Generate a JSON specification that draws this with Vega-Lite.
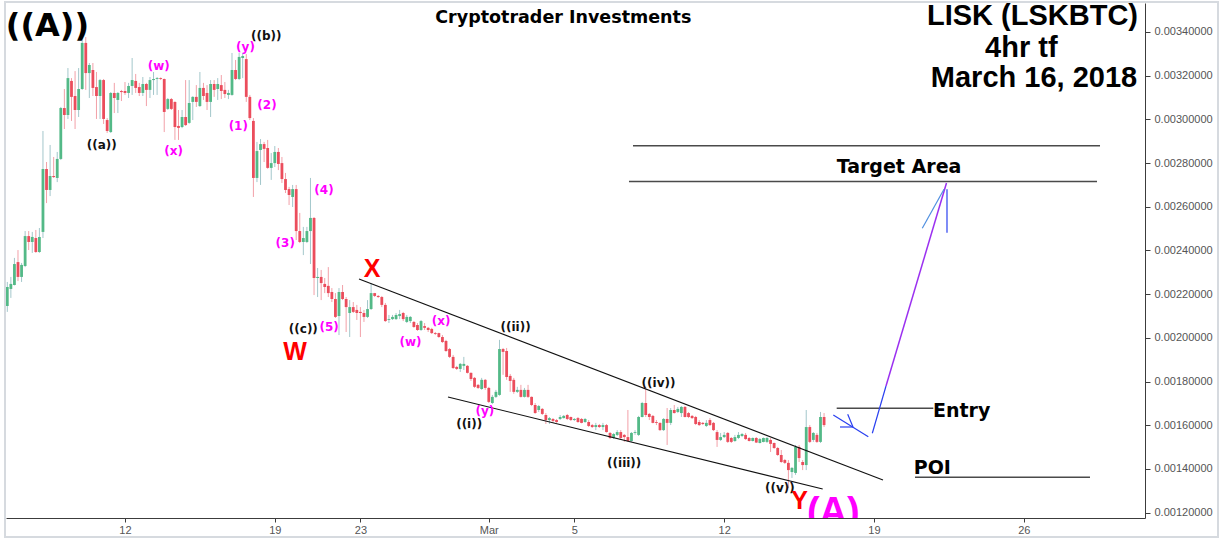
{
"$schema":"https://vega.github.io/schema/vega-lite/v6.json",
"width":1139,"height":515,
"autosize":{"type":"none"},
"padding":{"left":6,"top":3,"right":85,"bottom":38},
"background":"white",
"config":{"view":{"stroke":null},"axis":{"grid":false},"scale":{"continuousPadding":0}},
"datasets":{
"candles":[
{"t":"2018-02-06T12:00:00Z","o":0.002146,"h":0.002256,"l":0.002119,"c":0.002233},
{"t":"2018-02-06T16:00:00Z","o":0.002224,"h":0.002279,"l":0.002183,"c":0.002247},
{"t":"2018-02-06T20:00:00Z","o":0.002242,"h":0.002366,"l":0.002240,"c":0.002338},
{"t":"2018-02-07T00:00:00Z","o":0.002347,"h":0.002402,"l":0.002260,"c":0.002279},
{"t":"2018-02-07T04:00:00Z","o":0.002279,"h":0.002343,"l":0.002256,"c":0.002334},
{"t":"2018-02-07T08:00:00Z","o":0.002329,"h":0.002489,"l":0.002324,"c":0.002466},
{"t":"2018-02-07T12:00:00Z","o":0.002466,"h":0.002489,"l":0.002402,"c":0.002439},
{"t":"2018-02-07T16:00:00Z","o":0.002439,"h":0.002485,"l":0.002389,"c":0.002462},
{"t":"2018-02-07T20:00:00Z","o":0.002457,"h":0.002494,"l":0.002389,"c":0.002393},
{"t":"2018-02-08T00:00:00Z","o":0.002393,"h":0.002503,"l":0.002389,"c":0.002462},
{"t":"2018-02-08T04:00:00Z","o":0.002485,"h":0.002947,"l":0.002457,"c":0.002773},
{"t":"2018-02-08T08:00:00Z","o":0.002773,"h":0.002805,"l":0.002617,"c":0.002677},
{"t":"2018-02-08T12:00:00Z","o":0.002677,"h":0.002883,"l":0.002649,"c":0.002741},
{"t":"2018-02-08T16:00:00Z","o":0.002741,"h":0.002828,"l":0.002732,"c":0.002736},
{"t":"2018-02-08T20:00:00Z","o":0.002732,"h":0.002851,"l":0.002713,"c":0.002819},
{"t":"2018-02-09T00:00:00Z","o":0.002819,"h":0.003057,"l":0.002814,"c":0.003052},
{"t":"2018-02-09T04:00:00Z","o":0.003052,"h":0.003139,"l":0.002956,"c":0.003020},
{"t":"2018-02-09T08:00:00Z","o":0.003020,"h":0.003235,"l":0.003002,"c":0.003189},
{"t":"2018-02-09T12:00:00Z","o":0.003176,"h":0.003189,"l":0.002993,"c":0.003103},
{"t":"2018-02-09T16:00:00Z","o":0.003107,"h":0.003221,"l":0.002956,"c":0.003043},
{"t":"2018-02-09T20:00:00Z","o":0.003043,"h":0.003235,"l":0.003011,"c":0.003139},
{"t":"2018-02-10T00:00:00Z","o":0.003139,"h":0.003405,"l":0.003135,"c":0.003350},
{"t":"2018-02-10T04:00:00Z","o":0.003350,"h":0.003377,"l":0.003135,"c":0.003212},
{"t":"2018-02-10T08:00:00Z","o":0.003212,"h":0.003258,"l":0.003098,"c":0.003249},
{"t":"2018-02-10T12:00:00Z","o":0.003226,"h":0.003258,"l":0.003107,"c":0.003144},
{"t":"2018-02-10T16:00:00Z","o":0.003148,"h":0.003217,"l":0.003002,"c":0.003107},
{"t":"2018-02-10T20:00:00Z","o":0.003107,"h":0.003185,"l":0.003002,"c":0.003180},
{"t":"2018-02-11T00:00:00Z","o":0.003180,"h":0.003185,"l":0.002979,"c":0.003002},
{"t":"2018-02-11T04:00:00Z","o":0.002997,"h":0.003006,"l":0.002938,"c":0.002947},
{"t":"2018-02-11T08:00:00Z","o":0.002942,"h":0.003125,"l":0.002938,"c":0.003121},
{"t":"2018-02-11T12:00:00Z","o":0.003121,"h":0.003167,"l":0.003029,"c":0.003098},
{"t":"2018-02-11T16:00:00Z","o":0.003089,"h":0.003125,"l":0.003029,"c":0.003121},
{"t":"2018-02-11T20:00:00Z","o":0.003130,"h":0.003135,"l":0.003084,"c":0.003125},
{"t":"2018-02-12T00:00:00Z","o":0.003130,"h":0.003171,"l":0.003112,"c":0.003121},
{"t":"2018-02-12T04:00:00Z","o":0.003121,"h":0.003167,"l":0.003098,"c":0.003153},
{"t":"2018-02-12T08:00:00Z","o":0.003153,"h":0.003281,"l":0.003112,"c":0.003180},
{"t":"2018-02-12T12:00:00Z","o":0.003176,"h":0.003208,"l":0.003121,"c":0.003144},
{"t":"2018-02-12T16:00:00Z","o":0.003148,"h":0.003167,"l":0.003107,"c":0.003121},
{"t":"2018-02-12T20:00:00Z","o":0.003121,"h":0.003194,"l":0.003107,"c":0.003162},
{"t":"2018-02-13T00:00:00Z","o":0.003162,"h":0.003167,"l":0.003061,"c":0.003135},
{"t":"2018-02-13T04:00:00Z","o":0.003135,"h":0.003194,"l":0.003098,"c":0.003180},
{"t":"2018-02-13T08:00:00Z","o":0.003180,"h":0.003217,"l":0.003112,"c":0.003185},
{"t":"2018-02-13T12:00:00Z","o":0.003185,"h":0.003194,"l":0.003112,"c":0.003189},
{"t":"2018-02-13T16:00:00Z","o":0.003189,"h":0.003192,"l":0.003180,"c":0.003185},
{"t":"2018-02-13T20:00:00Z","o":0.003185,"h":0.003187,"l":0.002942,"c":0.003034},
{"t":"2018-02-14T00:00:00Z","o":0.003048,"h":0.003098,"l":0.003043,"c":0.003093},
{"t":"2018-02-14T04:00:00Z","o":0.003093,"h":0.003098,"l":0.003043,"c":0.003048},
{"t":"2018-02-14T08:00:00Z","o":0.003080,"h":0.003082,"l":0.002906,"c":0.002965},
{"t":"2018-02-14T12:00:00Z","o":0.002970,"h":0.003043,"l":0.002906,"c":0.002961},
{"t":"2018-02-14T16:00:00Z","o":0.002965,"h":0.003043,"l":0.002960,"c":0.003011},
{"t":"2018-02-14T20:00:00Z","o":0.003011,"h":0.003180,"l":0.002970,"c":0.002974},
{"t":"2018-02-15T00:00:00Z","o":0.002984,"h":0.003180,"l":0.002980,"c":0.003075},
{"t":"2018-02-15T04:00:00Z","o":0.003080,"h":0.003106,"l":0.002997,"c":0.003103},
{"t":"2018-02-15T08:00:00Z","o":0.003103,"h":0.003157,"l":0.003057,"c":0.003080},
{"t":"2018-02-15T12:00:00Z","o":0.003061,"h":0.003217,"l":0.003057,"c":0.003144},
{"t":"2018-02-15T16:00:00Z","o":0.003144,"h":0.003167,"l":0.003089,"c":0.003107},
{"t":"2018-02-15T20:00:00Z","o":0.003121,"h":0.003157,"l":0.003043,"c":0.003080},
{"t":"2018-02-16T00:00:00Z","o":0.003080,"h":0.003180,"l":0.003011,"c":0.003162},
{"t":"2018-02-16T04:00:00Z","o":0.003162,"h":0.003180,"l":0.003103,"c":0.003135},
{"t":"2018-02-16T08:00:00Z","o":0.003139,"h":0.003189,"l":0.003089,"c":0.003162},
{"t":"2018-02-16T12:00:00Z","o":0.003157,"h":0.003203,"l":0.003093,"c":0.003130},
{"t":"2018-02-16T16:00:00Z","o":0.003135,"h":0.003171,"l":0.003098,"c":0.003116},
{"t":"2018-02-16T20:00:00Z","o":0.003112,"h":0.003135,"l":0.003093,"c":0.003121},
{"t":"2018-02-17T00:00:00Z","o":0.003112,"h":0.003304,"l":0.003108,"c":0.003226},
{"t":"2018-02-17T04:00:00Z","o":0.003226,"h":0.003272,"l":0.003180,"c":0.003185},
{"t":"2018-02-17T08:00:00Z","o":0.003185,"h":0.003304,"l":0.003180,"c":0.003286},
{"t":"2018-02-17T12:00:00Z","o":0.003281,"h":0.003304,"l":0.003189,"c":0.003290},
{"t":"2018-02-17T16:00:00Z","o":0.003276,"h":0.003299,"l":0.003080,"c":0.003103},
{"t":"2018-02-17T20:00:00Z","o":0.003103,"h":0.003112,"l":0.002997,"c":0.003006},
{"t":"2018-02-18T00:00:00Z","o":0.002993,"h":0.003006,"l":0.002645,"c":0.002732},
{"t":"2018-02-18T04:00:00Z","o":0.002732,"h":0.002897,"l":0.002713,"c":0.002855},
{"t":"2018-02-18T08:00:00Z","o":0.002860,"h":0.002910,"l":0.002700,"c":0.002887},
{"t":"2018-02-18T12:00:00Z","o":0.002887,"h":0.002897,"l":0.002805,"c":0.002865},
{"t":"2018-02-18T16:00:00Z","o":0.002869,"h":0.002906,"l":0.002774,"c":0.002778},
{"t":"2018-02-18T20:00:00Z","o":0.002778,"h":0.002846,"l":0.002723,"c":0.002800},
{"t":"2018-02-19T00:00:00Z","o":0.002800,"h":0.002878,"l":0.002782,"c":0.002851},
{"t":"2018-02-19T04:00:00Z","o":0.002851,"h":0.002869,"l":0.002768,"c":0.002796},
{"t":"2018-02-19T08:00:00Z","o":0.002800,"h":0.002828,"l":0.002709,"c":0.002727},
{"t":"2018-02-19T12:00:00Z","o":0.002727,"h":0.002755,"l":0.002663,"c":0.002677},
{"t":"2018-02-19T16:00:00Z","o":0.002681,"h":0.002691,"l":0.002608,"c":0.002654},
{"t":"2018-02-19T20:00:00Z","o":0.002645,"h":0.002700,"l":0.002599,"c":0.002681},
{"t":"2018-02-20T00:00:00Z","o":0.002681,"h":0.002700,"l":0.002448,"c":0.002489},
{"t":"2018-02-20T04:00:00Z","o":0.002489,"h":0.002572,"l":0.002434,"c":0.002439},
{"t":"2018-02-20T08:00:00Z","o":0.002439,"h":0.002508,"l":0.002379,"c":0.002457},
{"t":"2018-02-20T12:00:00Z","o":0.002439,"h":0.002508,"l":0.002434,"c":0.002489},
{"t":"2018-02-20T16:00:00Z","o":0.002489,"h":0.002732,"l":0.002338,"c":0.002549},
{"t":"2018-02-20T20:00:00Z","o":0.002549,"h":0.002553,"l":0.002196,"c":0.002274},
{"t":"2018-02-21T00:00:00Z","o":0.002274,"h":0.002320,"l":0.002187,"c":0.002279},
{"t":"2018-02-21T04:00:00Z","o":0.002279,"h":0.002311,"l":0.002173,"c":0.002251},
{"t":"2018-02-21T08:00:00Z","o":0.002247,"h":0.002274,"l":0.002205,"c":0.002233},
{"t":"2018-02-21T12:00:00Z","o":0.002238,"h":0.002324,"l":0.002187,"c":0.002205},
{"t":"2018-02-21T16:00:00Z","o":0.002210,"h":0.002228,"l":0.002164,"c":0.002178},
{"t":"2018-02-21T20:00:00Z","o":0.002178,"h":0.002205,"l":0.002091,"c":0.002096},
{"t":"2018-02-22T00:00:00Z","o":0.002100,"h":0.002228,"l":0.002013,"c":0.002210},
{"t":"2018-02-22T04:00:00Z","o":0.002210,"h":0.002242,"l":0.002173,"c":0.002178},
{"t":"2018-02-22T08:00:00Z","o":0.002178,"h":0.002187,"l":0.002027,"c":0.002141},
{"t":"2018-02-22T12:00:00Z","o":0.002114,"h":0.002173,"l":0.002004,"c":0.002141},
{"t":"2018-02-22T16:00:00Z","o":0.002141,"h":0.002164,"l":0.002114,"c":0.002119},
{"t":"2018-02-22T20:00:00Z","o":0.002128,"h":0.002151,"l":0.002082,"c":0.002114},
{"t":"2018-02-23T00:00:00Z","o":0.002119,"h":0.002141,"l":0.002004,"c":0.002114},
{"t":"2018-02-23T04:00:00Z","o":0.002114,"h":0.002128,"l":0.002073,"c":0.002096},
{"t":"2018-02-23T08:00:00Z","o":0.002096,"h":0.002173,"l":0.002091,"c":0.002132},
{"t":"2018-02-23T12:00:00Z","o":0.002132,"h":0.002251,"l":0.002128,"c":0.002205},
{"t":"2018-02-23T16:00:00Z","o":0.002205,"h":0.002206,"l":0.002187,"c":0.002192},
{"t":"2018-02-23T20:00:00Z","o":0.002192,"h":0.002196,"l":0.002183,"c":0.002187},
{"t":"2018-02-24T00:00:00Z","o":0.002187,"h":0.002192,"l":0.002141,"c":0.002151},
{"t":"2018-02-24T04:00:00Z","o":0.002151,"h":0.002160,"l":0.002073,"c":0.002077},
{"t":"2018-02-24T08:00:00Z","o":0.002082,"h":0.002105,"l":0.002068,"c":0.002086},
{"t":"2018-02-24T12:00:00Z","o":0.002086,"h":0.002105,"l":0.002082,"c":0.002096},
{"t":"2018-02-24T16:00:00Z","o":0.002086,"h":0.002114,"l":0.002082,"c":0.002105},
{"t":"2018-02-24T20:00:00Z","o":0.002100,"h":0.002128,"l":0.002086,"c":0.002109},
{"t":"2018-02-25T00:00:00Z","o":0.002114,"h":0.002119,"l":0.002077,"c":0.002086},
{"t":"2018-02-25T04:00:00Z","o":0.002073,"h":0.002105,"l":0.002068,"c":0.002096},
{"t":"2018-02-25T08:00:00Z","o":0.002077,"h":0.002100,"l":0.002068,"c":0.002096},
{"t":"2018-02-25T12:00:00Z","o":0.002073,"h":0.002077,"l":0.002046,"c":0.002050},
{"t":"2018-02-25T16:00:00Z","o":0.002059,"h":0.002068,"l":0.002032,"c":0.002036},
{"t":"2018-02-25T20:00:00Z","o":0.002036,"h":0.002082,"l":0.002032,"c":0.002077},
{"t":"2018-02-26T00:00:00Z","o":0.002054,"h":0.002068,"l":0.002036,"c":0.002046},
{"t":"2018-02-26T04:00:00Z","o":0.002046,"h":0.002050,"l":0.002027,"c":0.002036},
{"t":"2018-02-26T08:00:00Z","o":0.002041,"h":0.002046,"l":0.002018,"c":0.002022},
{"t":"2018-02-26T12:00:00Z","o":0.002022,"h":0.002027,"l":0.002013,"c":0.002018},
{"t":"2018-02-26T16:00:00Z","o":0.002022,"h":0.002024,"l":0.002000,"c":0.002004},
{"t":"2018-02-26T20:00:00Z","o":0.002004,"h":0.002013,"l":0.001977,"c":0.001981},
{"t":"2018-02-27T00:00:00Z","o":0.001986,"h":0.001991,"l":0.001936,"c":0.001940},
{"t":"2018-02-27T04:00:00Z","o":0.001949,"h":0.001954,"l":0.001908,"c":0.001913},
{"t":"2018-02-27T08:00:00Z","o":0.001913,"h":0.001922,"l":0.001858,"c":0.001862},
{"t":"2018-02-27T12:00:00Z","o":0.001867,"h":0.001872,"l":0.001853,"c":0.001858},
{"t":"2018-02-27T16:00:00Z","o":0.001858,"h":0.001885,"l":0.001844,"c":0.001881},
{"t":"2018-02-27T20:00:00Z","o":0.001872,"h":0.001913,"l":0.001853,"c":0.001881},
{"t":"2018-02-28T00:00:00Z","o":0.001872,"h":0.001876,"l":0.001837,"c":0.001840},
{"t":"2018-02-28T04:00:00Z","o":0.001840,"h":0.001842,"l":0.001803,"c":0.001812},
{"t":"2018-02-28T08:00:00Z","o":0.001817,"h":0.001821,"l":0.001771,"c":0.001776},
{"t":"2018-02-28T12:00:00Z","o":0.001785,"h":0.001789,"l":0.001766,"c":0.001771},
{"t":"2018-02-28T16:00:00Z","o":0.001766,"h":0.001817,"l":0.001762,"c":0.001808},
{"t":"2018-02-28T20:00:00Z","o":0.001808,"h":0.001812,"l":0.001762,"c":0.001771},
{"t":"2018-03-01T00:00:00Z","o":0.001771,"h":0.001776,"l":0.001702,"c":0.001707},
{"t":"2018-03-01T04:00:00Z","o":0.001702,"h":0.001739,"l":0.001697,"c":0.001730},
{"t":"2018-03-01T08:00:00Z","o":0.001730,"h":0.001762,"l":0.001725,"c":0.001753},
{"t":"2018-03-01T12:00:00Z","o":0.001739,"h":0.001991,"l":0.001735,"c":0.001949},
{"t":"2018-03-01T16:00:00Z","o":0.001949,"h":0.001954,"l":0.001831,"c":0.001936},
{"t":"2018-03-01T20:00:00Z","o":0.001940,"h":0.001954,"l":0.001808,"c":0.001821},
{"t":"2018-03-02T00:00:00Z","o":0.001826,"h":0.001835,"l":0.001753,"c":0.001803},
{"t":"2018-03-02T04:00:00Z","o":0.001808,"h":0.001817,"l":0.001744,"c":0.001753},
{"t":"2018-03-02T08:00:00Z","o":0.001753,"h":0.001776,"l":0.001748,"c":0.001762},
{"t":"2018-03-02T12:00:00Z","o":0.001762,"h":0.001785,"l":0.001727,"c":0.001730},
{"t":"2018-03-02T16:00:00Z","o":0.001730,"h":0.001771,"l":0.001727,"c":0.001762},
{"t":"2018-03-02T20:00:00Z","o":0.001762,"h":0.001785,"l":0.001725,"c":0.001730},
{"t":"2018-03-03T00:00:00Z","o":0.001730,"h":0.001732,"l":0.001688,"c":0.001693},
{"t":"2018-03-03T04:00:00Z","o":0.001693,"h":0.001702,"l":0.001653,"c":0.001656},
{"t":"2018-03-03T08:00:00Z","o":0.001670,"h":0.001693,"l":0.001661,"c":0.001688},
{"t":"2018-03-03T12:00:00Z","o":0.001675,"h":0.001679,"l":0.001647,"c":0.001652},
{"t":"2018-03-03T16:00:00Z","o":0.001647,"h":0.001656,"l":0.001606,"c":0.001624},
{"t":"2018-03-03T20:00:00Z","o":0.001624,"h":0.001638,"l":0.001606,"c":0.001633},
{"t":"2018-03-04T00:00:00Z","o":0.001629,"h":0.001633,"l":0.001611,"c":0.001620},
{"t":"2018-03-04T04:00:00Z","o":0.001624,"h":0.001629,"l":0.001611,"c":0.001615},
{"t":"2018-03-04T08:00:00Z","o":0.001629,"h":0.001647,"l":0.001624,"c":0.001638},
{"t":"2018-03-04T12:00:00Z","o":0.001633,"h":0.001647,"l":0.001631,"c":0.001643},
{"t":"2018-03-04T16:00:00Z","o":0.001647,"h":0.001652,"l":0.001624,"c":0.001629},
{"t":"2018-03-04T20:00:00Z","o":0.001638,"h":0.001640,"l":0.001620,"c":0.001624},
{"t":"2018-03-05T00:00:00Z","o":0.001624,"h":0.001633,"l":0.001620,"c":0.001629},
{"t":"2018-03-05T04:00:00Z","o":0.001633,"h":0.001638,"l":0.001611,"c":0.001615},
{"t":"2018-03-05T08:00:00Z","o":0.001629,"h":0.001633,"l":0.001609,"c":0.001611},
{"t":"2018-03-05T12:00:00Z","o":0.001615,"h":0.001633,"l":0.001611,"c":0.001629},
{"t":"2018-03-05T16:00:00Z","o":0.001615,"h":0.001624,"l":0.001592,"c":0.001597},
{"t":"2018-03-05T20:00:00Z","o":0.001601,"h":0.001606,"l":0.001588,"c":0.001592},
{"t":"2018-03-06T00:00:00Z","o":0.001592,"h":0.001611,"l":0.001578,"c":0.001601},
{"t":"2018-03-06T04:00:00Z","o":0.001601,"h":0.001606,"l":0.001588,"c":0.001592},
{"t":"2018-03-06T08:00:00Z","o":0.001592,"h":0.001611,"l":0.001578,"c":0.001601},
{"t":"2018-03-06T12:00:00Z","o":0.001601,"h":0.001606,"l":0.001567,"c":0.001569},
{"t":"2018-03-06T16:00:00Z","o":0.001565,"h":0.001569,"l":0.001537,"c":0.001542},
{"t":"2018-03-06T20:00:00Z","o":0.001542,"h":0.001565,"l":0.001537,"c":0.001560},
{"t":"2018-03-07T00:00:00Z","o":0.001556,"h":0.001578,"l":0.001551,"c":0.001569},
{"t":"2018-03-07T04:00:00Z","o":0.001569,"h":0.001578,"l":0.001537,"c":0.001542},
{"t":"2018-03-07T08:00:00Z","o":0.001556,"h":0.001560,"l":0.001524,"c":0.001546},
{"t":"2018-03-07T12:00:00Z","o":0.001546,"h":0.001670,"l":0.001524,"c":0.001528},
{"t":"2018-03-07T16:00:00Z","o":0.001528,"h":0.001569,"l":0.001524,"c":0.001565},
{"t":"2018-03-07T20:00:00Z","o":0.001565,"h":0.001578,"l":0.001556,"c":0.001569},
{"t":"2018-03-08T00:00:00Z","o":0.001556,"h":0.001643,"l":0.001551,"c":0.001638},
{"t":"2018-03-08T04:00:00Z","o":0.001638,"h":0.001707,"l":0.001636,"c":0.001702},
{"t":"2018-03-08T08:00:00Z","o":0.001702,"h":0.001776,"l":0.001638,"c":0.001647},
{"t":"2018-03-08T12:00:00Z","o":0.001652,"h":0.001656,"l":0.001624,"c":0.001638},
{"t":"2018-03-08T16:00:00Z","o":0.001643,"h":0.001647,"l":0.001609,"c":0.001611},
{"t":"2018-03-08T20:00:00Z","o":0.001615,"h":0.001624,"l":0.001601,"c":0.001611},
{"t":"2018-03-09T00:00:00Z","o":0.001611,"h":0.001613,"l":0.001574,"c":0.001578},
{"t":"2018-03-09T04:00:00Z","o":0.001578,"h":0.001633,"l":0.001574,"c":0.001629},
{"t":"2018-03-09T08:00:00Z","o":0.001629,"h":0.001679,"l":0.001510,"c":0.001611},
{"t":"2018-03-09T12:00:00Z","o":0.001611,"h":0.001679,"l":0.001601,"c":0.001670},
{"t":"2018-03-09T16:00:00Z","o":0.001670,"h":0.001693,"l":0.001654,"c":0.001656},
{"t":"2018-03-09T20:00:00Z","o":0.001661,"h":0.001684,"l":0.001656,"c":0.001675},
{"t":"2018-03-10T00:00:00Z","o":0.001656,"h":0.001688,"l":0.001638,"c":0.001684},
{"t":"2018-03-10T04:00:00Z","o":0.001684,"h":0.001688,"l":0.001636,"c":0.001638},
{"t":"2018-03-10T08:00:00Z","o":0.001656,"h":0.001661,"l":0.001633,"c":0.001638},
{"t":"2018-03-10T12:00:00Z","o":0.001643,"h":0.001647,"l":0.001629,"c":0.001633},
{"t":"2018-03-10T16:00:00Z","o":0.001638,"h":0.001643,"l":0.001601,"c":0.001606},
{"t":"2018-03-10T20:00:00Z","o":0.001615,"h":0.001624,"l":0.001597,"c":0.001601},
{"t":"2018-03-11T00:00:00Z","o":0.001611,"h":0.001615,"l":0.001601,"c":0.001606},
{"t":"2018-03-11T04:00:00Z","o":0.001597,"h":0.001624,"l":0.001592,"c":0.001611},
{"t":"2018-03-11T08:00:00Z","o":0.001624,"h":0.001633,"l":0.001597,"c":0.001601},
{"t":"2018-03-11T12:00:00Z","o":0.001611,"h":0.001615,"l":0.001574,"c":0.001578},
{"t":"2018-03-11T16:00:00Z","o":0.001569,"h":0.001578,"l":0.001501,"c":0.001533},
{"t":"2018-03-11T20:00:00Z","o":0.001533,"h":0.001565,"l":0.001528,"c":0.001546},
{"t":"2018-03-12T00:00:00Z","o":0.001546,"h":0.001569,"l":0.001542,"c":0.001556},
{"t":"2018-03-12T04:00:00Z","o":0.001565,"h":0.001569,"l":0.001519,"c":0.001524},
{"t":"2018-03-12T08:00:00Z","o":0.001542,"h":0.001546,"l":0.001519,"c":0.001524},
{"t":"2018-03-12T12:00:00Z","o":0.001528,"h":0.001556,"l":0.001524,"c":0.001546},
{"t":"2018-03-12T16:00:00Z","o":0.001542,"h":0.001569,"l":0.001537,"c":0.001556},
{"t":"2018-03-12T20:00:00Z","o":0.001551,"h":0.001565,"l":0.001546,"c":0.001560},
{"t":"2018-03-13T00:00:00Z","o":0.001556,"h":0.001565,"l":0.001533,"c":0.001537},
{"t":"2018-03-13T04:00:00Z","o":0.001542,"h":0.001546,"l":0.001526,"c":0.001528},
{"t":"2018-03-13T08:00:00Z","o":0.001528,"h":0.001544,"l":0.001526,"c":0.001542},
{"t":"2018-03-13T12:00:00Z","o":0.001542,"h":0.001546,"l":0.001519,"c":0.001521},
{"t":"2018-03-13T16:00:00Z","o":0.001519,"h":0.001542,"l":0.001517,"c":0.001537},
{"t":"2018-03-13T20:00:00Z","o":0.001524,"h":0.001544,"l":0.001522,"c":0.001542},
{"t":"2018-03-14T00:00:00Z","o":0.001524,"h":0.001546,"l":0.001519,"c":0.001542},
{"t":"2018-03-14T04:00:00Z","o":0.001533,"h":0.001542,"l":0.001478,"c":0.001515},
{"t":"2018-03-14T08:00:00Z","o":0.001519,"h":0.001521,"l":0.001492,"c":0.001496},
{"t":"2018-03-14T12:00:00Z","o":0.001496,"h":0.001501,"l":0.001460,"c":0.001464},
{"t":"2018-03-14T16:00:00Z","o":0.001464,"h":0.001487,"l":0.001428,"c":0.001432},
{"t":"2018-03-14T20:00:00Z","o":0.001441,"h":0.001446,"l":0.001423,"c":0.001428},
{"t":"2018-03-15T00:00:00Z","o":0.001428,"h":0.001441,"l":0.001313,"c":0.001395},
{"t":"2018-03-15T04:00:00Z","o":0.001386,"h":0.001409,"l":0.001359,"c":0.001405},
{"t":"2018-03-15T08:00:00Z","o":0.001382,"h":0.001510,"l":0.001373,"c":0.001501},
{"t":"2018-03-15T12:00:00Z","o":0.001501,"h":0.001510,"l":0.001432,"c":0.001450},
{"t":"2018-03-15T16:00:00Z","o":0.001432,"h":0.001441,"l":0.001395,"c":0.001418},
{"t":"2018-03-15T20:00:00Z","o":0.001418,"h":0.001670,"l":0.001395,"c":0.001592},
{"t":"2018-03-16T00:00:00Z","o":0.001592,"h":0.001601,"l":0.001519,"c":0.001524},
{"t":"2018-03-16T04:00:00Z","o":0.001533,"h":0.001569,"l":0.001524,"c":0.001565},
{"t":"2018-03-16T08:00:00Z","o":0.001556,"h":0.001565,"l":0.001519,"c":0.001524},
{"t":"2018-03-16T12:00:00Z","o":0.001524,"h":0.001661,"l":0.001519,"c":0.001638},
{"t":"2018-03-16T16:00:00Z","o":0.001638,"h":0.001656,"l":0.001592,"c":0.001601}
],
"frame":[{"t":1517909155200,"t2":1522806480000,"p":0.0035373,"p2":0.0010888}],
"trend":[
{"t":"2018-02-22T22:26:00Z","p":0.0022695,"t2":"2018-03-19T10:06:00Z","p2":0.0013497},
{"t":"2018-02-27T02:14:00Z","p":0.0017295,"t2":"2018-03-16T14:28:00Z","p2":0.0013084}
],
"levels":[
{"t":"2018-03-07T17:43:00Z","p":0.0028796,"t2":"2018-03-29T13:28:00Z","p2":0.0028796},
{"t":"2018-03-07T13:13:00Z","p":0.0027158,"t2":"2018-03-29T10:06:00Z","p2":0.0027158},
{"t":"2018-03-17T06:10:00Z","p":0.0016778,"t2":"2018-03-21T18:30:00Z","p2":0.0016778},
{"t":"2018-03-20T21:59:00Z","p":0.0013619,"t2":"2018-03-29T02:14:00Z","p2":0.0013619}
],
"blue":[
{"t":"2018-03-17T02:21:00Z","p":0.0016471,"t2":"2018-03-18T17:37:00Z","p2":0.0015478},
{"t":"2018-03-17T18:30:00Z","p":0.0016503,"t2":"2018-03-18T00:27:00Z","p2":0.0015922},
{"t":"2018-03-17T09:52:00Z","p":0.0015922,"t2":"2018-03-18T00:27:00Z","p2":0.0015922},
{"t":"2018-03-18T22:06:00Z","p":0.0015634,"t2":"2018-03-19T13:28:00Z","p2":0.0017799},
{"t":"2018-03-22T09:52:00Z","p":0.0026801,"t2":"2018-03-22T09:52:00Z","p2":0.0024815}
],
"purple":[{"t":"2018-03-19T13:28:00Z","p":0.0017799,"t2":"2018-03-22T09:18:00Z","p2":0.0027089}],
"lightblue":[{"t":"2018-03-21T06:10:00Z","p":0.0025016,"t2":"2018-03-22T06:30:00Z","p2":0.0026801}],
"blackLabels":[
{"t":"2018-02-10T21:52:00Z","p":0.0028815,"s":"((a))"},
{"t":"2018-02-18T14:21:00Z","p":0.0033803,"s":"((b))"},
{"t":"2018-02-20T08:00:00Z","p":0.0020418,"s":"((c))"},
{"t":"2018-03-02T06:03:00Z","p":0.0020489,"s":"((ii))"},
{"t":"2018-02-28T02:00:00Z","p":0.0016060,"s":"((i))"},
{"t":"2018-03-08T22:19:00Z","p":0.0017958,"s":"((iv))"},
{"t":"2018-03-07T07:51:00Z","p":0.0014297,"s":"((iii))"},
{"t":"2018-03-14T14:30:00Z","p":0.0013120,"s":"((v))"}
],
"magentaLabels":[
{"t":"2018-02-17T15:09:00Z","p":0.0033327,"s":"(y)"},
{"t":"2018-02-13T13:48:00Z","p":0.0032453,"s":"(w)"},
{"t":"2018-02-14T06:37:00Z","p":0.0028576,"s":"(x)"},
{"t":"2018-02-18T15:16:00Z","p":0.0030636,"s":"(2)"},
{"t":"2018-02-17T07:03:00Z","p":0.0029675,"s":"(1)"},
{"t":"2018-02-21T07:10:00Z","p":0.0026760,"s":"(4)"},
{"t":"2018-02-19T11:40:00Z","p":0.0024333,"s":"(3)"},
{"t":"2018-02-21T13:00:00Z","p":0.0020476,"s":"(5)"},
{"t":"2018-02-26T18:37:00Z","p":0.0020759,"s":"(x)"},
{"t":"2018-02-25T08:11:00Z","p":0.0019812,"s":"(w)"},
{"t":"2018-02-28T19:30:00Z","p":0.0016650,"s":"(y)"}
],
"redLetters":[
{"t":"2018-02-23T13:00:00Z","p":0.0022801,"s":"X"},
{"t":"2018-02-19T22:39:00Z","p":0.0019011,"s":"W"},
{"t":"2018-03-15T12:30:00Z","p":0.0012169,"s":"Y"}
],
"bigA":[{"t":"2018-03-17T02:21:00Z","p":0.0011482,"s":"(A)"}],
"topA":[{"t":"2018-02-08T09:00:00Z","p":0.0034275,"s":"((A))"}],
"brand":[{"t":"2018-03-04T11:33:00Z","p":0.0034426,"s":"Cryptotrader Investments"}],
"titles":[
{"t":"2018-03-26T09:46:00Z","p":0.0034320,"s":"LISK (LSKBTC)"},
{"t":"2018-03-25T21:12:00Z","p":0.0032870,"s":"4hr tf"},
{"t":"2018-03-26T11:27:00Z","p":0.0031469,"s":"March 16, 2018"}
],
"levelLabels":[
{"t":"2018-03-20T04:02:00Z","p":0.0027560,"s":"Target Area"},
{"t":"2018-03-23T02:21:00Z","p":0.0016366,"s":"Entry"},
{"t":"2018-03-21T17:23:00Z","p":0.0013757,"s":"POI"}
]
},
"layer":[
{"data":{"name":"candles"},
 "mark":{"type":"rule","strokeWidth":1},
 "encoding":{
  "x":{"field":"t","type":"temporal","scale":{"type":"utc","domain":[1517913155520,1522511735000],"padding":0},
   "axis":{"title":null,"values":[1518393600000,1518998400000,1519344000000,1519862400000,1520208000000,1520812800000,1521417600000,1522022400000],
    "labelExpr":"utcFormat(datum.value,'%d')=='01' ? utcFormat(datum.value,'%b') : utcFormat(datum.value,'%-d')",
    "labelFont":"Liberation Sans Narrow, Liberation Sans","labelFontSize":11,"labelColor":"#555555","tickSize":4,"tickColor":"#3c3c3c","domainColor":"#3c3c3c","labelPadding":2,"grid":false}},
  "y":{"field":"l","type":"quantitative","scale":{"domain":[0.0011757,0.0035327],"zero":false,"nice":false,"padding":0},
   "axis":{"orient":"right","title":null,"values":[0.0012,0.0014,0.0016,0.0018,0.002,0.0022,0.0024,0.0026,0.0028,0.003,0.0032,0.0034],"format":".8f",
    "labelFont":"Liberation Sans","labelFontSize":11,"labelColor":"#555555","tickSize":5,"tickColor":"#3c3c3c","domainColor":"#3c3c3c","labelPadding":4,"grid":false}},
  "y2":{"field":"h"},
  "color":{"condition":{"test":"datum.c >= datum.o","value":"#a3c7cb"},"value":"#f2a0a8"}
 }},
{"data":{"name":"candles"},
 "mark":{"type":"bar","width":2.8},
 "encoding":{
  "x":{"field":"t","type":"temporal","scale":{"type":"utc","domain":[1517913155520,1522511735000],"padding":0}},
  "y":{"field":"o","type":"quantitative","scale":{"domain":[0.0011757,0.0035327],"zero":false,"nice":false,"padding":0}},
  "y2":{"field":"c"},
  "color":{"condition":{"test":"datum.c >= datum.o","value":"#53b987"},"value":"#eb4d5c"}
 }},
{"data":{"name":"trend"},"mark":{"type":"rule","color":"#111111","strokeWidth":1.1},
 "encoding":{"x":{"field":"t","type":"temporal"},"x2":{"field":"t2"},
  "y":{"field":"p","type":"quantitative"},"y2":{"field":"p2"}}},
{"data":{"name":"levels"},"mark":{"type":"rule","color":"#4a4a4a","strokeWidth":1.6},
 "encoding":{"x":{"field":"t","type":"temporal"},"x2":{"field":"t2"},
  "y":{"field":"p","type":"quantitative"},"y2":{"field":"p2"}}},
{"data":{"name":"blue"},"mark":{"type":"rule","color":"#2a40f0","strokeWidth":1.2},
 "encoding":{"x":{"field":"t","type":"temporal"},"x2":{"field":"t2"},
  "y":{"field":"p","type":"quantitative"},"y2":{"field":"p2"}}},
{"data":{"name":"purple"},"mark":{"type":"rule","color":"#9b30f0","strokeWidth":1.5},
 "encoding":{"x":{"field":"t","type":"temporal"},"x2":{"field":"t2"},
  "y":{"field":"p","type":"quantitative"},"y2":{"field":"p2"}}},
{"data":{"name":"lightblue"},"mark":{"type":"rule","color":"#4f8fe0","strokeWidth":1.2},
 "encoding":{"x":{"field":"t","type":"temporal"},"x2":{"field":"t2"},
  "y":{"field":"p","type":"quantitative"},"y2":{"field":"p2"}}},
{"data":{"name":"frame"},"mark":{"type":"rect","fill":"transparent","stroke":"#d6dadf","strokeWidth":2,"clip":false},
 "encoding":{"x":{"field":"t","type":"temporal"},"x2":{"field":"t2"},
  "y":{"field":"p","type":"quantitative"},"y2":{"field":"p2"}}},
{"data":{"name":"blackLabels"},"mark":{"type":"text","font":"DejaVu Sans","fontWeight":"bold","fontSize":12,"color":"#111111","align":"center","baseline":"middle"},
 "encoding":{"x":{"field":"t","type":"temporal"},"y":{"field":"p","type":"quantitative"},"text":{"field":"s"}}},
{"data":{"name":"magentaLabels"},"mark":{"type":"text","font":"DejaVu Sans","fontWeight":"bold","fontSize":12,"color":"#ff00ff","align":"center","baseline":"middle"},
 "encoding":{"x":{"field":"t","type":"temporal"},"y":{"field":"p","type":"quantitative"},"text":{"field":"s"}}},
{"data":{"name":"redLetters"},"mark":{"type":"text","font":"Liberation Sans","fontWeight":"bold","fontSize":25,"color":"#ff0000","align":"center","baseline":"alphabetic"},
 "encoding":{"x":{"field":"t","type":"temporal"},"y":{"field":"p","type":"quantitative"},"text":{"field":"s"}}},
{"data":{"name":"bigA"},"mark":{"type":"text","font":"Liberation Sans","fontWeight":"bold","fontSize":38,"color":"#ff00ff","align":"center","baseline":"alphabetic","clip":true},
 "encoding":{"x":{"field":"t","type":"temporal"},"y":{"field":"p","type":"quantitative"},"text":{"field":"s"}}},
{"data":{"name":"topA"},"mark":{"type":"text","font":"DejaVu Sans","fontWeight":"bold","fontSize":32,"color":"#000000","align":"center","baseline":"middle"},
 "encoding":{"x":{"field":"t","type":"temporal"},"y":{"field":"p","type":"quantitative"},"text":{"field":"s"}}},
{"data":{"name":"brand"},"mark":{"type":"text","font":"DejaVu Sans","fontWeight":"bold","fontSize":17.5,"color":"#000000","align":"center","baseline":"alphabetic"},
 "encoding":{"x":{"field":"t","type":"temporal"},"y":{"field":"p","type":"quantitative"},"text":{"field":"s"}}},
{"data":{"name":"titles"},"mark":{"type":"text","font":"Liberation Sans","fontWeight":"bold","fontSize":29,"color":"#000000","align":"center","baseline":"alphabetic"},
 "encoding":{"x":{"field":"t","type":"temporal"},"y":{"field":"p","type":"quantitative"},"text":{"field":"s"}}},
{"data":{"name":"levelLabels"},"mark":{"type":"text","font":"DejaVu Sans","fontWeight":"bold","fontSize":19,"color":"#000000","align":"center","baseline":"alphabetic"},
 "encoding":{"x":{"field":"t","type":"temporal"},"y":{"field":"p","type":"quantitative"},"text":{"field":"s"}}}
]
}
